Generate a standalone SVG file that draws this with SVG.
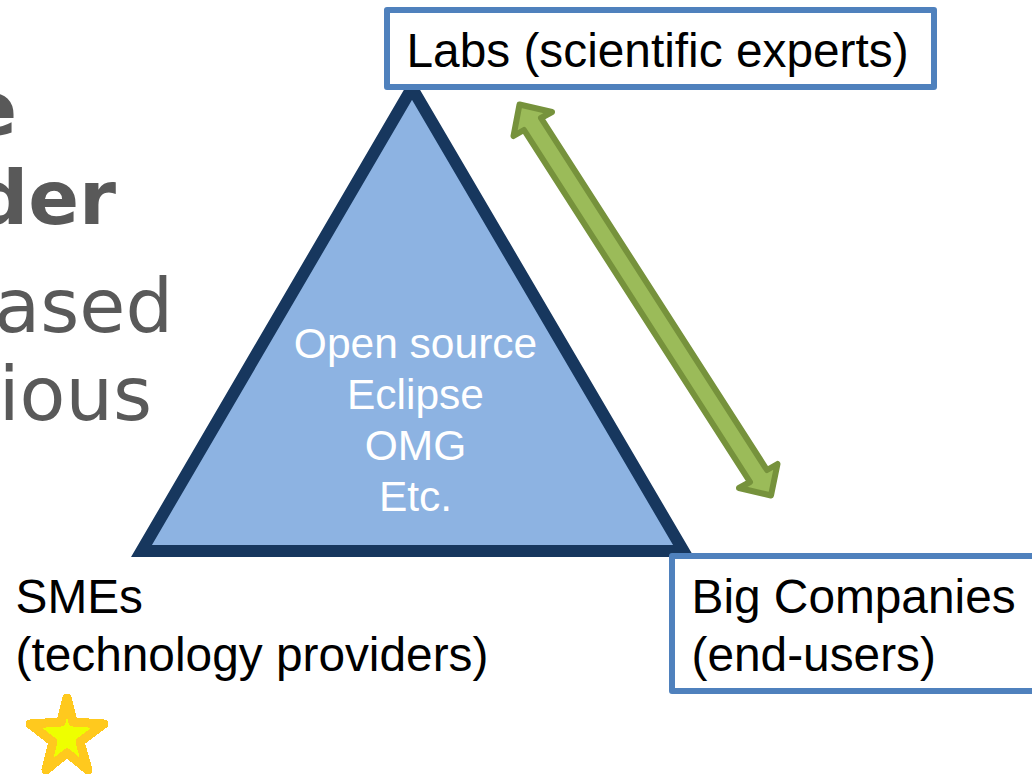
<svg xmlns="http://www.w3.org/2000/svg" width="1032" height="775" viewBox="0 0 1032 775">
<style>
.bg{font-family:"DejaVu Sans",sans-serif;font-size:75px;fill:#595959;text-anchor:end}
.b{font-weight:bold}
.t{font-family:"Liberation Sans",Arial,sans-serif;font-size:47.8px;fill:#000}
.w{font-family:"Liberation Sans",Arial,sans-serif;font-size:42.5px;fill:#fff;text-anchor:middle}
.box{fill:#fff;stroke:#4f81bd;stroke-width:6;stroke-linejoin:round}
</style>
<rect width="1032" height="775" fill="#fff"/>
<g id="background-text">
<text class="bg b" x="17" y="135">e</text>
<text class="bg b" x="116" y="224">der</text>
<text class="bg" x="173" y="332">ased</text>
<text class="bg" x="152" y="420">ious</text>
</g>
<g id="connectors">
<path d="M519.500 104.500L552 112L541 118L767 470L777.500 464L771 495.500L739 488L750 482L524 130L513.500 136Z" fill="#9bbb59" stroke="#76923c" stroke-width="6" stroke-linejoin="round"/>
</g>
<g id="triangle">
<path d="M412 88L683.500 551H141.500Z" fill="#8db3e2" stroke="#17375e" stroke-width="12"/>
<text class="w" x="415.500" y="358">Open source</text>
<text class="w" x="415.500" y="409">Eclipse</text>
<text class="w" x="415.500" y="460">OMG</text>
<text class="w" x="415.500" y="511">Etc.</text>
</g>
<g id="labs">
<rect class="box" x="387" y="10" width="547" height="77"/>
<text class="t" x="406.500" y="67">Labs (scientific experts)</text>
</g>
<g id="big-companies">
<rect class="box" x="672" y="556" width="380" height="135"/>
<text class="t" x="691.500" y="613">Big Companies</text>
<text class="t" x="691.500" y="671">(end-users)</text>
</g>
<g id="smes">
<text class="t" x="15.500" y="613">SMEs</text>
<text class="t" x="15.500" y="671">(technology providers)</text>
</g>
<g id="star">
<path d="M67 698L73 722L104 724L80 742L88 770L67 753L46 770L53 742L30 724L61 722Z" fill="#eeff00" stroke="#ffc91e" stroke-width="9" stroke-linejoin="round" shape-rendering="crispEdges"/>
</g>
</svg>
